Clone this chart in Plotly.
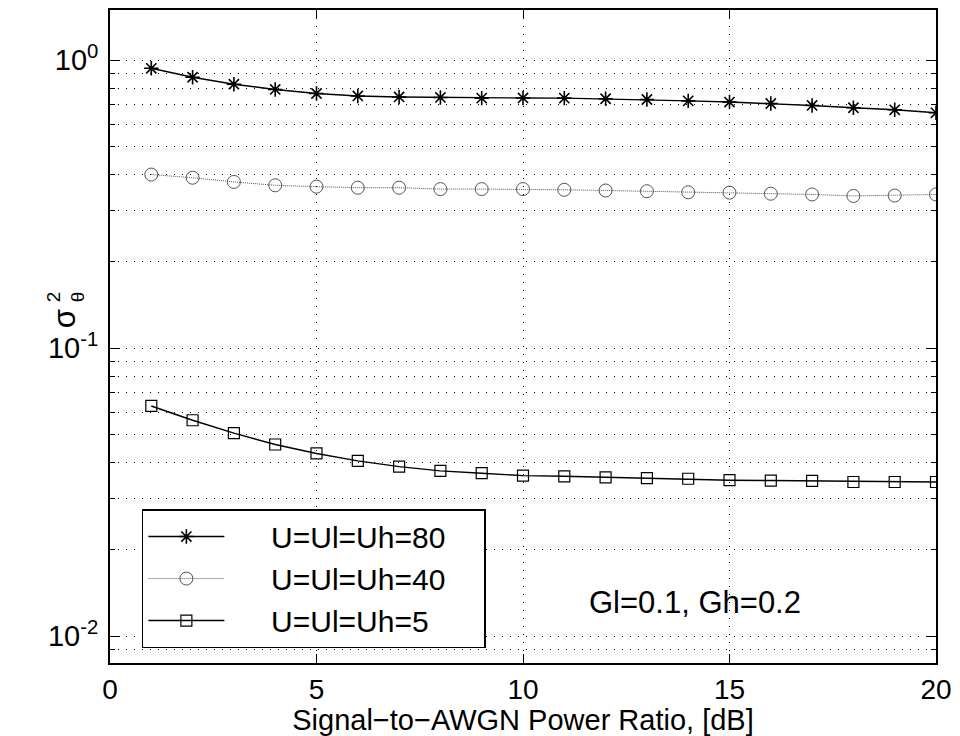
import plotly.graph_objects as go

snr_db = list(range(1, 21))
var_u80 = [0.938, 0.873, 0.826, 0.792, 0.767, 0.752, 0.746, 0.743, 0.739, 0.740,
           0.739, 0.735, 0.731, 0.723, 0.716, 0.708, 0.697, 0.684, 0.673, 0.657]
var_u40 = [0.401, 0.391, 0.378, 0.368, 0.364, 0.361, 0.361, 0.357, 0.357, 0.357,
           0.355, 0.353, 0.351, 0.348, 0.347, 0.344, 0.342, 0.338, 0.339, 0.342]
var_u5 = [0.0630, 0.0562, 0.0507, 0.0463, 0.0431, 0.0406, 0.0388, 0.0375, 0.0368, 0.0361,
          0.0359, 0.0356, 0.0354, 0.0352, 0.0348, 0.0347, 0.0346, 0.0343, 0.0343, 0.0343]
names = ["U=Ul=Uh=80", "U=Ul=Uh=40", "U=Ul=Uh=5"]
x_ticks = [0, 5, 10, 15, 20]
y_ticks = [0.01, 0.1, 1]
y_ticktext = ["10<sup>-2</sup>", "10<sup>-1</sup>", "10<sup>0</sup>"]

FONT = "Liberation Sans, Arial, Helvetica, sans-serif"
lpad = "\u00a0" * 5
rpad = "\u00a0" * 4

fig = go.Figure()
fig.add_trace(go.Scatter(x=snr_db, y=var_u80, name=lpad + names[0] + rpad, mode="lines+markers",
                         line=dict(color="black", width=1.4),
                         marker=dict(symbol="asterisk-open", size=12, color="black",
                                     line=dict(color="black", width=1.6))))
fig.add_trace(go.Scatter(x=snr_db, y=var_u40, name=lpad + names[1] + rpad, mode="lines+markers",
                         line=dict(color="#555555", width=1, dash="1px,1px"),
                         marker=dict(symbol="circle-open", size=13, color="#555555",
                                     line=dict(color="#555555", width=1))))
fig.add_trace(go.Scatter(x=snr_db, y=var_u5, name=lpad + names[2] + rpad, mode="lines+markers",
                         line=dict(color="black", width=1.4),
                         marker=dict(symbol="square-open", size=11, color="black",
                                     line=dict(color="black", width=1.2))))

minor_vals = [m * 10 ** e for e in (-3, -2, -1, 0) for m in range(2, 10)]
minor_vals = [v for v in minor_vals if 0.008 <= v <= 1.5]

fig.update_layout(
    width=960, height=736,
    margin=dict(l=110, r=21, t=8, b=73),
    paper_bgcolor="white", plot_bgcolor="white",
    font=dict(family=FONT, color="black", size=24),
    showlegend=True,
    legend=dict(x=0.0386, y=0.0229, xanchor="left", yanchor="bottom",
                xref="paper", yref="paper",
                bordercolor="black", borderwidth=1.5, bgcolor="white",
                font=dict(size=30, family=FONT), tracegroupgap=0, itemwidth=76),
    xaxis=dict(range=[0, 20], tickvals=x_ticks, ticks="inside", ticklen=9, tickwidth=1,
               tickcolor="black", showline=True, linecolor="black", linewidth=1.8,
               mirror="allticks", showgrid=True, gridcolor="black", gridwidth=1,
               griddash="1px,7px", zeroline=False, tickfont=dict(size=28),
               title=dict(text="Signal\u2212to\u2212AWGN Power Ratio, [dB]",
                          font=dict(size=29), standoff=2)),
    yaxis=dict(type="log", range=[-2.0934, 0.1747], tickvals=y_ticks, ticktext=y_ticktext,
               ticks="inside", ticklen=10, tickwidth=1, tickcolor="black",
               showline=True, linecolor="black", linewidth=1.8, mirror="allticks",
               showgrid=True, gridcolor="black", gridwidth=1, griddash="1px,7px",
               zeroline=False, tickfont=dict(size=29), ticklabelstandoff=4,
               minor=dict(tickvals=minor_vals, ticks="inside", ticklen=5, tickcolor="black",
                          showgrid=True, gridcolor="black", gridwidth=1, griddash="1px,7px")),
)

# Y-axis label: sigma with stacked superscript 2 and subscript theta (rotated)
ylab = [("σ", 64, 318, 31), ("2", 53, 296, 19), ("θ", 77, 296, 19)]
for txt, px, py, fs in ylab:
    fig.add_annotation(text=txt, x=(px - 110) / 829, y=(663 - py) / 655,
                       xref="paper", yref="paper", xanchor="center", yanchor="middle",
                       showarrow=False, textangle=-90, font=dict(size=fs, family=FONT))

fig.add_annotation(text="Gl=0.1, Gh=0.2", x=14.16, y=-1.882, xanchor="center", yanchor="middle",
                   xref="x", yref="y", showarrow=False, font=dict(size=31, family=FONT))

fig.write_html("out.html")
